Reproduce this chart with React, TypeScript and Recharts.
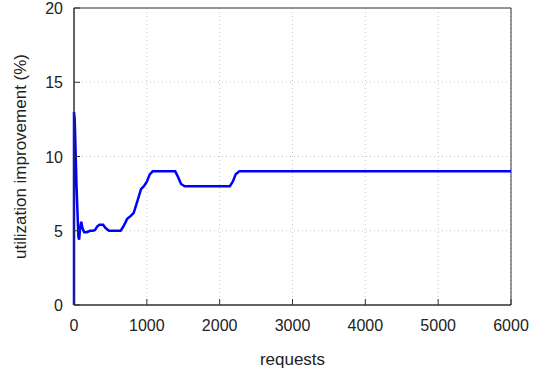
import { LineChart, Line, XAxis, YAxis, CartesianGrid, ReferenceArea, Label } from "recharts";

const requests = [
  0, 0, 10, 35, 60, 70, 85, 100, 115, 140, 175, 220, 260, 290, 320, 350, 400, 430, 480, 640,
  680, 730, 780, 820, 870, 920, 960, 1000, 1040, 1080, 1390, 1430, 1470, 1520, 2140, 2180,
  2220, 2270, 6000,
];
const improvement = [
  0, 13, 12.5, 8, 4.6, 4.4, 5.2, 5.6, 5.2, 4.9, 4.9, 5.0, 5.0, 5.05, 5.3, 5.4, 5.4, 5.2, 5.0, 5.0,
  5.3, 5.8, 6.0, 6.2, 7.0, 7.8, 8.0, 8.3, 8.8, 9.0, 9.0, 8.6, 8.15, 8.0, 8.0, 8.3,
  8.8, 9.0, 9.0,
];
const xTicks = [0, 1000, 2000, 3000, 4000, 5000, 6000];
const yTicks = [0, 5, 10, 15, 20];

const data = requests.map((r, i) => ({ requests: r, value: improvement[i] }));

const font = "Liberation Sans, Arial, sans-serif";
const axisColor = "#333";

const XTick = ({ x, y, payload }: any) => (
  <g>
    <line x1={x} x2={x} y1={y} y2={y - 6} stroke={axisColor} strokeWidth={1} />
    <text x={x} y={y + 26} textAnchor="middle" fontSize={16} fill="#222" fontFamily={font}>
      {payload.value}
    </text>
  </g>
);

const YTick = ({ x, y, payload }: any) => (
  <g>
    <line x1={x} x2={x + 6} y1={y} y2={y} stroke={axisColor} strokeWidth={1} />
    <text x={x - 11} y={y + 6} textAnchor="end" fontSize={16} fill="#222" fontFamily={font}>
      {payload.value}
    </text>
  </g>
);

export default function App() {
  return (
    <div style={{ position: "absolute", left: 0, top: 0, background: "#fff" }}>
      <LineChart width={544} height={368} data={data} margin={{ top: 8, right: 33, bottom: 0, left: 0 }}>
        <CartesianGrid stroke="#c8c8c8" strokeDasharray="1 3" />
        <XAxis
          dataKey="requests"
          type="number"
          domain={[0, 6000]}
          ticks={xTicks}
          height={63}
          tickSize={0}
          tickMargin={0}
          tickLine={false}
          tick={<XTick />}
          stroke={axisColor}
          interval={0}
        >
          <Label value="requests" position="insideBottom" offset={3} fontSize={17} fill="#222" fontFamily={font} />
        </XAxis>
        <YAxis
          type="number"
          domain={[0, 20]}
          ticks={yTicks}
          width={74}
          tickSize={0}
          tickMargin={0}
          tickLine={false}
          tick={<YTick />}
          stroke={axisColor}
          interval={0}
        >
          <Label
            value="utilization improvement (%)"
            angle={-90}
            position="insideLeft"
            offset={20}
            style={{ textAnchor: "middle" }}
            fontSize={17}
            fill="#222"
            fontFamily={font}
          />
        </YAxis>
        <ReferenceArea x1={0} x2={6000} y1={0} y2={20} fill="none" fillOpacity={0} stroke={axisColor} strokeWidth={1} />
        <Line
          type="linear"
          dataKey="value"
          stroke="#0000ff"
          strokeWidth={2.5}
          dot={false}
          isAnimationActive={false}
        />
      </LineChart>
    </div>
  );
}
